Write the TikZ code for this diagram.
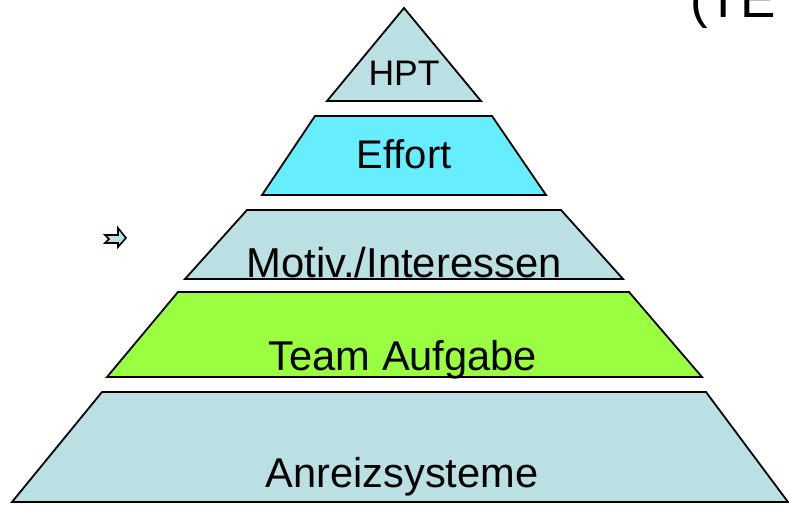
\documentclass[tikz,border=0pt]{standalone}
\usepackage{fontspec}
\setmainfont{Liberation Sans}
\usepackage{tikz}
\usetikzlibrary{calc}

\definecolor{paleblue}{RGB}{186,224,227}
\definecolor{effortcyan}{RGB}{102,238,255}
\definecolor{teamgreen}{RGB}{153,255,64}

\tikzset{
  layer/.style={draw=black,line width=1.8pt,line join=miter},
  lbl/.style={anchor=base,text=black,inner sep=0pt},
}

\begin{document}
\begin{tikzpicture}[x=1pt,y=-1pt]
  \useasboundingbox (0,0) rectangle (789,504);
  % pyramid, from the top down
  \draw[layer,fill=paleblue] (404,8) -- (481,101) -- (327,101) -- cycle;
  \node[lbl,font=\fontsize{35.5}{42}\selectfont] (hpt) at (404,85) {HPT};
  \draw[layer,fill=effortcyan] (315,116) -- (492,116) -- (546,195) -- (262,195) -- cycle;
  \node[lbl,font=\fontsize{40}{46}\selectfont] (effort) at (404,168) {Effort};
  \draw[layer,fill=paleblue] (247,210) -- (561,210) -- (623,279) -- (185,279) -- cycle;
  \node[lbl,font=\fontsize{41.8}{48}\selectfont] (motiv) at (404,277) {Motiv./Interessen};
  \draw[layer,fill=teamgreen] (178,292) -- (629,292) -- (702,377) -- (107,377) -- cycle;
  \node[lbl,font=\fontsize{41.6}{48}\selectfont] (team) at (403,370) {Team Aufgabe};
  \draw[layer,fill=paleblue] (102,392) -- (706,392) -- (788,502) -- (12,502) -- cycle;
  \node[lbl,font=\fontsize{41.6}{48}\selectfont] (anreiz) at (402,487) {Anreizsysteme};
  % small bullet arrow
  \draw[line width=1.6pt,fill=paleblue,line join=miter] (105,235) -- (118,235) -- (118,228) -- (126,238)
    -- (118,247) -- (118,243) -- (105,243) -- (109,239) -- cycle;
  % cut-off title
  \node[lbl,anchor=base west,font=\fontsize{53}{60}\selectfont] (title) at (690,17) {(TE};
\end{tikzpicture}
\end{document}
